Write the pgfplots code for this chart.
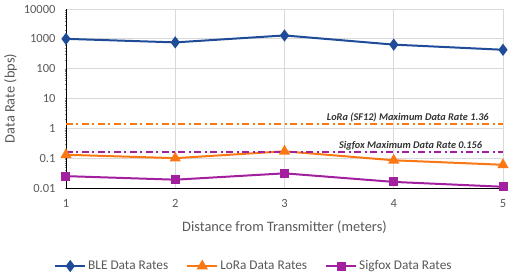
\documentclass[border=0pt]{standalone}
\usepackage{pgfplots}
\pgfplotsset{compat=1.18}
\usepackage{fontspec}
\setmainfont{Carlito}
\definecolor{bleblue}{HTML}{1F4B99}
\definecolor{loraor}{HTML}{FA7814}
\definecolor{sigpur}{HTML}{A21F9E}
\definecolor{txtgray}{HTML}{595959}
\definecolor{gridgray}{HTML}{D9D9D9}
\begin{document}
\begin{tikzpicture}
\path[use as bounding box] (-66pt,-88pt) rectangle (446pt,188pt);
\begin{axis}[
  scale only axis, width=437pt, height=179pt,
  at={(0pt,0pt)}, anchor=south west,
  ymode=log, ymin=0.01, ymax=10000,
  xmin=1, xmax=5,
  xtick={1,2,3,4,5},
  ytick={0.01,0.1,1,10,100,1000,10000},
  yticklabels={0.01,0.1,1,10,100,1000,10000},
  /pgf/number format/assume math mode=true,
  axis x line=bottom, axis y line=left,
  axis line style={black, line width=0.8pt, -},
  major tick length=0pt,
  grid=major,
  major grid style={gridgray, line width=0.8pt},
  ticklabel style={font=\fontsize{12.5}{14}\selectfont, text=txtgray},
  xticklabel style={yshift=-8pt},
  yticklabel style={xshift=-7pt},
  xlabel={Distance from Transmitter (meters)},
  ylabel={Data Rate (bps)},
  label style={font=\fontsize{14.4}{16}\selectfont, text=txtgray},
  xlabel style={yshift=-6pt},
  ylabel style={yshift=0pt},
  legend columns=3,
  legend style={at={(axis description cs:0.43,-0.436)}, anchor=center, draw=none,
    font=\fontsize{13.3}{15}\selectfont, text=txtgray,
    nodes={inner xsep=2pt},
    /tikz/every even column/.append style={column sep=16pt}},
  legend image code/.code={
    \draw[mark repeat=2, mark phase=2, #1] plot coordinates {(0pt,0pt) (15pt,0pt) (30pt,0pt)};},
  clip=false,
]
\addplot[bleblue, line width=2pt, mark=diamond*, mark size=4.5pt, mark options={solid}]
  coordinates {(1,1000) (2,760) (3,1300) (4,640) (5,430)};
\addlegendentry{BLE Data Rates}
\addplot[loraor, line width=2pt, mark=triangle*, mark size=4.5pt, mark options={solid}]
  coordinates {(1,0.13) (2,0.10) (3,0.17) (4,0.085) (5,0.06)};
\addlegendentry{LoRa Data Rates}
\addplot[sigpur, line width=2pt, mark=square*, mark size=3.5pt, mark options={solid}]
  coordinates {(1,0.025) (2,0.019) (3,0.031) (4,0.016) (5,0.011)};
\addlegendentry{Sigfox Data Rates}
\addplot[loraor, line width=2pt, dash pattern=on 7pt off 3.5pt on 2pt off 3.5pt, forget plot]
  coordinates {(1,1.36) (5,1.36)};
\addplot[sigpur, line width=2pt, dash pattern=on 7pt off 3.5pt on 2pt off 3.5pt, forget plot]
  coordinates {(1,0.156) (5,0.156)};
\node[anchor=south east, inner sep=1pt, font=\fontsize{10.3}{12}\selectfont\itshape\bfseries, text=black!80]
  at (axis cs:4.88,1.45) {LoRa (SF12) Maximum Data Rate 1.36};
\node[anchor=south east, inner sep=1pt, font=\fontsize{10.3}{12}\selectfont\itshape\bfseries, text=black!80]
  at (axis cs:4.82,0.166) {Sigfox Maximum Data Rate 0.156};
\end{axis}
\end{tikzpicture}
\end{document}
